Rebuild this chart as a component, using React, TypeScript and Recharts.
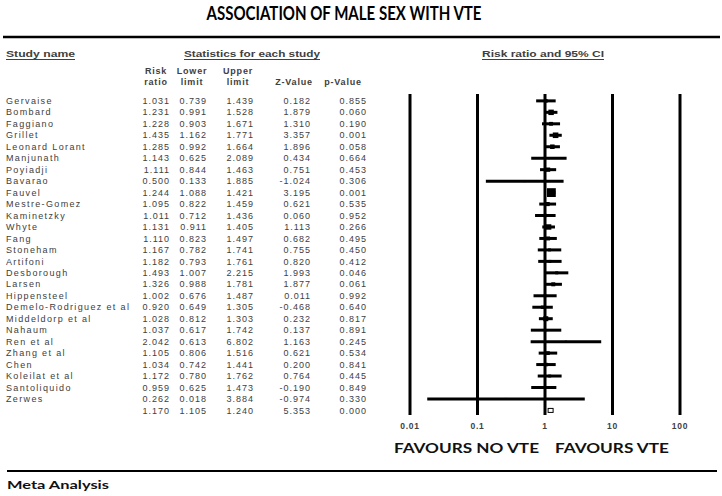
import { ScatterChart, Scatter, XAxis, YAxis, ErrorBar, ReferenceLine } from 'recharts';

const STUDIES = [
  'Gervaise', 'Bombard', 'Faggiano', 'Grillet', 'Leonard Lorant', 'Manjunath', 'Poyiadji',
  'Bavarao', 'Fauvel', 'Mestre-Gomez', 'Kaminetzky', 'Whyte', 'Fang', 'Stoneham', 'Artifoni',
  'Desborough', 'Larsen', 'Hippensteel', 'Demelo-Rodriguez et al', 'Middeldorp et al', 'Nahaum',
  'Ren et al', 'Zhang et al', 'Chen', 'Koleilat et al', 'Santoliquido', 'Zerwes',
];
const RISK_RATIO = [
  1.031, 1.231, 1.228, 1.435, 1.285, 1.143, 1.111, 0.5, 1.244, 1.095, 1.011, 1.131, 1.11, 1.167,
  1.182, 1.493, 1.326, 1.002, 0.92, 1.028, 1.037, 2.042, 1.105, 1.034, 1.172, 0.959, 0.262,
];
const LOWER_LIMIT = [
  0.739, 0.991, 0.903, 1.162, 0.992, 0.625, 0.844, 0.133, 1.088, 0.822, 0.712, 0.911, 0.823, 0.782,
  0.793, 1.007, 0.988, 0.676, 0.649, 0.812, 0.617, 0.613, 0.806, 0.742, 0.78, 0.625, 0.018,
];
const UPPER_LIMIT = [
  1.439, 1.528, 1.671, 1.771, 1.664, 2.089, 1.463, 1.885, 1.421, 1.459, 1.436, 1.405, 1.497, 1.741,
  1.761, 2.215, 1.781, 1.487, 1.305, 1.303, 1.742, 6.802, 1.516, 1.441, 1.762, 1.473, 3.884,
];
const Z_VALUE = [
  0.182, 1.879, 1.31, 3.357, 1.896, 0.434, 0.751, -1.024, 3.195, 0.621, 0.06, 1.113, 0.682, 0.755,
  0.82, 1.993, 1.877, 0.011, -0.468, 0.232, 0.137, 1.163, 0.621, 0.2, 0.764, -0.19, -0.974,
];
const P_VALUE = [
  0.855, 0.06, 0.19, 0.001, 0.058, 0.664, 0.453, 0.306, 0.001, 0.535, 0.952, 0.266, 0.495, 0.45,
  0.412, 0.046, 0.061, 0.992, 0.64, 0.817, 0.891, 0.245, 0.534, 0.841, 0.445, 0.849, 0.33,
];
// pooled: risk ratio, lower, upper, z, p
const SUMMARY = [1.17, 1.105, 1.24, 5.353, 0.0];
const X_TICKS = [0.01, 0.1, 1, 10, 100];

const SUMMARY_ROW = STUDIES.length;
const ROWS = Array.from({ length: SUMMARY_ROW + 1 }, (_, i) => i);

const studyData = STUDIES.map((name, i) => ({
  row: i,
  name,
  rr: RISK_RATIO[i],
  err: [RISK_RATIO[i] - LOWER_LIMIT[i], UPPER_LIMIT[i] - RISK_RATIO[i]],
  se: (Math.log(UPPER_LIMIT[i]) - Math.log(LOWER_LIMIT[i])) / 3.92,
}));
const summaryData = [{ row: SUMMARY_ROW, rr: SUMMARY[0] }];

const TABLE_FONT = '"Liberation Sans", Arial, sans-serif';
const BIG_FONT = 'Lato, "Open Sans", sans-serif';
const TEXT = '#404040';
const COL_RIGHT = [170, 207, 254, 311, 367];

function RowTick(props: any) {
  const { y, payload } = props;
  const i = payload.value as number;
  const vals = i === SUMMARY_ROW
    ? SUMMARY
    : [RISK_RATIO[i], LOWER_LIMIT[i], UPPER_LIMIT[i], Z_VALUE[i], P_VALUE[i]];
  if (vals[0] === undefined) return null;
  return (
    <g fontFamily={TABLE_FONT} fontSize={9} fill={TEXT}>
      {i < SUMMARY_ROW && (
        <text x={6} y={y} dy="0.35em" letterSpacing={1.35}>{STUDIES[i]}</text>
      )}
      {vals.map((v, k) => (
        <text key={k} x={COL_RIGHT[k]} y={y} dy="0.35em" textAnchor="end" letterSpacing={1}>
          {v.toFixed(3)}
        </text>
      ))}
    </g>
  );
}

function XTick(props: any) {
  const { x, y, payload } = props;
  return (
    <text x={x} y={y} dy="0.71em" textAnchor="middle" fontFamily={TABLE_FONT} fontSize={8.5}
      fontWeight="bold" fill={TEXT} letterSpacing={0.8}>
      {String(payload.value)}
    </text>
  );
}

function StudyMarker(props: any) {
  const { cx, cy, payload } = props;
  const s = Math.max(2, Math.min(9, 0.6 / payload.se));
  return <rect x={cx - s / 2} y={cy - s / 2} width={s} height={s} fill="#000" />;
}

function SummaryMarker(props: any) {
  const { cx, cy } = props;
  return <rect x={cx - 1.5} y={cy - 2} width={5} height={4} fill="#fff" stroke="#000" strokeWidth={1} />;
}

function Decorations() {
  const hdr = { fontFamily: TABLE_FONT, fontSize: 9, fontWeight: 'bold' as const, fill: TEXT };
  return (
    <svg width={722} height={496} style={{ position: 'absolute', left: 0, top: 0, pointerEvents: 'none' }}>
      <text x={344} y={20} textAnchor="middle" fontFamily={BIG_FONT} fontWeight="bold" fontSize={18}
        textLength={275} lengthAdjust="spacingAndGlyphs" fill="#000">
        ASSOCIATION OF MALE SEX WITH VTE
      </text>
      <line x1={3} x2={720} y1={37} y2={37} stroke="#000" strokeWidth={2.5} />

      <text x={6} y={57} {...hdr} textLength={69} lengthAdjust="spacingAndGlyphs">Study name</text>
      <line x1={6} x2={75} y1={59.5} y2={59.5} stroke={TEXT} strokeWidth={1} />
      <text x={184} y={57} {...hdr} textLength={136} lengthAdjust="spacingAndGlyphs">Statistics for each study</text>
      <line x1={184} x2={320} y1={59.5} y2={59.5} stroke={TEXT} strokeWidth={1} />
      <text x={482} y={57} {...hdr} textLength={122} lengthAdjust="spacingAndGlyphs">Risk ratio and 95% CI</text>
      <line x1={482} x2={604} y1={59.5} y2={59.5} stroke={TEXT} strokeWidth={1} />

      <g {...hdr} textAnchor="middle" letterSpacing={0.8}>
        <text x={156} y={74}>Risk</text>
        <text x={156} y={85}>ratio</text>
        <text x={192} y={74}>Lower</text>
        <text x={192} y={85}>limit</text>
        <text x={238} y={74}>Upper</text>
        <text x={238} y={85}>limit</text>
        <text x={294} y={85}>Z-Value</text>
        <text x={343} y={85}>p-Value</text>
      </g>

      <text x={394} y={453} fontFamily={BIG_FONT} fontWeight="bold" fontSize={14} fill="#111"
        textLength={145} lengthAdjust="spacingAndGlyphs">FAVOURS NO VTE</text>
      <text x={555} y={453} fontFamily={BIG_FONT} fontWeight="bold" fontSize={14} fill="#111"
        textLength={114} lengthAdjust="spacingAndGlyphs">FAVOURS VTE</text>

      <line x1={7} x2={717} y1={471} y2={471} stroke="#000" strokeWidth={2} />
      <text x={7} y={489} fontFamily={BIG_FONT} fontWeight="bold" fontSize={12} fill="#111"
        textLength={102} lengthAdjust="spacingAndGlyphs">Meta Analysis</text>
    </svg>
  );
}

export default function App() {
  return (
    <div style={{ position: 'absolute', left: 0, top: 0, width: 722, height: 496, background: '#fff' }}>
      <ScatterChart width={722} height={496} margin={{ top: 94, right: 42, bottom: 51, left: 0 }}>
        <XAxis
          type="number"
          dataKey="rr"
          scale="log"
          domain={[0.01, 100]}
          ticks={X_TICKS}
          allowDataOverflow
          axisLine={false}
          tickLine={false}
          height={30}
          tick={<XTick />}
        />
        <YAxis
          type="number"
          dataKey="row"
          domain={[-0.6, 27.4]}
          reversed
          ticks={ROWS}
          interval={0}
          allowDataOverflow
          axisLine={false}
          tickLine={false}
          width={410}
          tick={<RowTick />}
        />
        {X_TICKS.map((t) => (
          <ReferenceLine key={t} x={t} stroke="#000" strokeWidth={3} />
        ))}
        <Scatter data={studyData} shape={<StudyMarker />} isAnimationActive={false}>
          <ErrorBar dataKey="err" direction="x" width={0} stroke="#000" strokeWidth={3} isAnimationActive={false} />
        </Scatter>
        <Scatter data={summaryData} shape={<SummaryMarker />} isAnimationActive={false} />
      </ScatterChart>
      <Decorations />
    </div>
  );
}
